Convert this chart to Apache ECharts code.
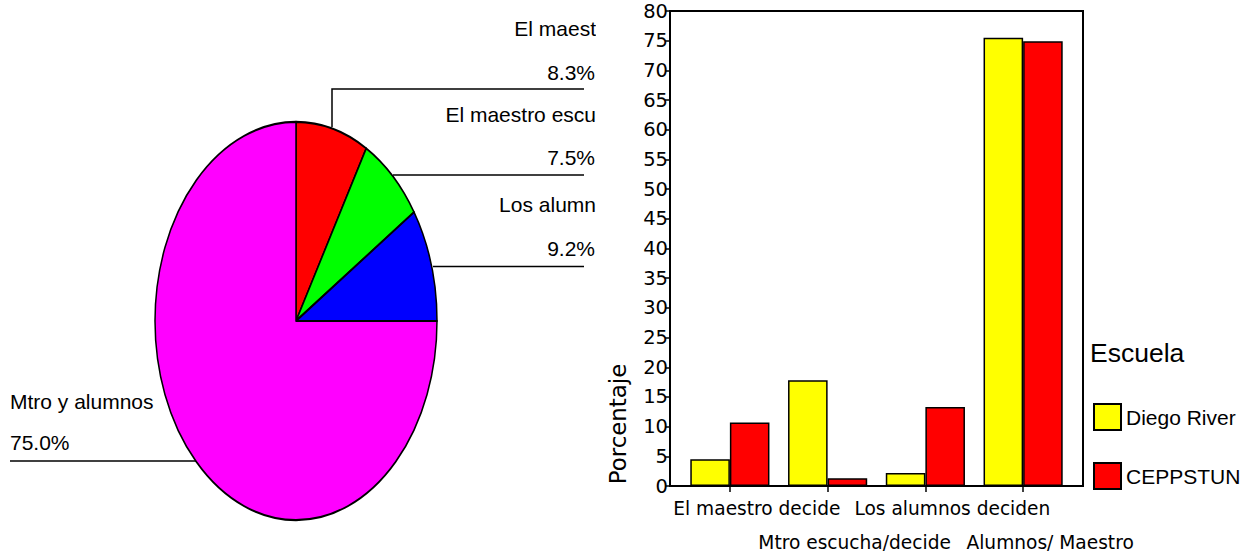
<!DOCTYPE html>
<html>
<head>
<meta charset="utf-8">
<script src="https://cdn.jsdelivr.net/npm/echarts@6/dist/echarts.min.js"></script>
<style>
html,body{margin:0;padding:0;background:#fff;}
#wrap{position:relative;width:1241px;height:556px;overflow:hidden;background:#fff;}
#labels{position:absolute;left:0;top:0;width:596px;height:556px;overflow:hidden;}
#pie{position:absolute;left:146px;top:171px;width:300px;height:300px;transform:scaleY(1.412);transform-origin:50% 50%;}
#bars{position:absolute;left:596px;top:0;width:645px;height:556px;}
</style>
</head>
<body>
<div id="wrap">
  <div id="labels"></div>
  <div id="pie"></div>
  <div id="bars"></div>
</div>
<script>
// ---- data ----
const pieLabels = ['El maest', 'El maestro escu', 'Los alumn', 'Mtro y alumnos'];
const pieValues = [8.3, 7.5, 9.2, 75.0];

const barCategories = ['El maestro decide', 'Mtro escucha/decide', 'Los alumnos deciden', 'Alumnos/ Maestro'];
const seriesNames = ['Diego River', 'CEPPSTUN'];
const diegoRivera = [4.5, 17.8, 2.2, 75.5];
const ceppstunam = [10.7, 1.3, 13.3, 74.9];

const yMin = 0, yMax = 80, yInterval = 5;
const yAxisTitle = 'Porcentaje';
const legendTitle = 'Escuela';

// ---- styles / layout ----
const pieColors = ['#FF0000', '#00FF00', '#0000FF', '#FF00FF'];
const barColors = ['#FFFF00', '#FF0000'];
const labelFont = '21px "Liberation Sans", Arial, sans-serif';

// positions of the pie annotations (name, value, leader line)
const pieLabelLayout = [
  {nameX: 596, nameY: 28,  nameAlign: 'right', valX: 595, valY: 72.5, valAlign: 'right', line: [[332,127],[332,89],[584,89]]},
  {nameX: 596, nameY: 114, nameAlign: 'right', valX: 595, valY: 157.5, valAlign: 'right', line: [[393,175],[584,175]]},
  {nameX: 596, nameY: 204, nameAlign: 'right', valX: 595, valY: 248, valAlign: 'right', line: [[433,266.5],[584,266.5]]},
  {nameX: 10,  nameY: 401, nameAlign: 'left',  valX: 10,  valY: 442.5, valAlign: 'left', line: [[10,461],[196,461]]}
];

// ---- pie annotation layer ----
const labelChart = echarts.init(document.getElementById('labels'), null, {renderer: 'svg'});
const labelGraphics = [];
pieLabels.forEach(function (name, i) {
  const L = pieLabelLayout[i];
  labelGraphics.push({
    type: 'text', x: L.nameX, y: L.nameY, silent: true,
    style: {text: name, font: labelFont, fill: '#000', align: L.nameAlign, textAlign: L.nameAlign, verticalAlign: 'middle', textVerticalAlign: 'middle'}
  });
  labelGraphics.push({
    type: 'text', x: L.valX, y: L.valY, silent: true,
    style: {text: pieValues[i].toFixed(1) + '%', font: labelFont, fill: '#000', align: L.valAlign, textAlign: L.valAlign, verticalAlign: 'middle', textVerticalAlign: 'middle'}
  });
  labelGraphics.push({
    type: 'polyline', silent: true,
    shape: {points: L.line},
    style: {stroke: '#000', lineWidth: 1.5, fill: null}
  });
});
labelChart.setOption({animation: false, graphic: labelGraphics});

// ---- pie (drawn round, stretched vertically into an ellipse) ----
const pieChart = echarts.init(document.getElementById('pie'), null, {renderer: 'svg'});
pieChart.setOption({
  animation: false,
  series: [{
    type: 'pie',
    silent: true,
    center: ['50%', '50%'],
    radius: 141,
    startAngle: 90,
    clockwise: true,
    label: {show: false},
    labelLine: {show: false},
    itemStyle: {borderColor: '#000', borderWidth: 1.5},
    data: pieValues.map(function (v, i) {
      return {name: pieLabels[i], value: v, itemStyle: {color: pieColors[i]}};
    })
  }]
});

// ---- bar chart ----
const barChart = echarts.init(document.getElementById('bars'), null, {renderer: 'svg'});
barChart.setOption({
  animation: false,
  grid: [
    {left: 74, right: 158, top: 11, bottom: 70, show: true, borderColor: '#000', borderWidth: 2, backgroundColor: 'transparent', outerBoundsMode: 'none', containLabel: false},
    {left: 85, right: 169, top: 11, bottom: 70, outerBoundsMode: 'none', containLabel: false}
  ],
  xAxis: [
    {gridIndex: 0, type: 'value', show: false, min: 0, max: 1},
    {
      gridIndex: 1, type: 'category', data: barCategories,
      axisLine: {show: false},
      axisTick: {show: true, alignWithLabel: true, length: 6, lineStyle: {color: '#000', width: 1.5}},
      axisLabel: {
        interval: 0, color: '#000', fontFamily: '"DejaVu Sans"', fontSize: 18.6,
        lineHeight: 34, margin: 5, padding: [0, 0, 0, 54],
        formatter: function (v, i) { return i % 2 ? '\n' + v : v; }
      },
      splitLine: {show: false}
    }
  ],
  yAxis: [
    {
      gridIndex: 0, type: 'value', min: yMin, max: yMax, interval: yInterval,
      axisLine: {show: false},
      axisTick: {show: true, length: 5, lineStyle: {color: '#000', width: 1.5}},
      axisLabel: {color: '#000', fontFamily: '"DejaVu Sans"', fontSize: 19.5, margin: 2},
      splitLine: {show: false}
    },
    {gridIndex: 1, type: 'value', min: yMin, max: yMax, interval: yInterval, show: false, splitLine: {show: false}}
  ],
  legend: {
    orient: 'vertical', left: 497, top: 403, padding: 0,
    itemWidth: 27, itemHeight: 26, itemGap: 31, icon: 'rect',
    selectedMode: false,
    textStyle: {fontSize: 21, fontFamily: '"Liberation Sans", Arial, sans-serif', color: '#000'},
    data: seriesNames
  },
  series: [
    {
      type: 'bar', name: seriesNames[0], xAxisIndex: 1, yAxisIndex: 1, data: diegoRivera,
      barGap: '0%', barCategoryGap: '19%',
      itemStyle: {color: barColors[0], borderColor: '#000', borderWidth: 1.5}
    },
    {
      type: 'bar', name: seriesNames[1], xAxisIndex: 1, yAxisIndex: 1, data: ceppstunam,
      barGap: '0%', barCategoryGap: '19%',
      itemStyle: {color: barColors[1], borderColor: '#000', borderWidth: 1.5}
    }
  ],
  graphic: [
    {
      type: 'text', x: 494, y: 353, silent: true,
      style: {text: legendTitle, font: '26.5px "Liberation Sans", Arial, sans-serif', fill: '#000', align: 'left', textAlign: 'left', verticalAlign: 'middle', textVerticalAlign: 'middle'}
    },
    {
      type: 'text', x: 21.5, y: 424, rotation: Math.PI / 2, silent: true,
      style: {text: yAxisTitle, font: '22.9px "DejaVu Sans", sans-serif', fill: '#000', align: 'center', textAlign: 'center', verticalAlign: 'middle', textVerticalAlign: 'middle'}
    }
  ]
});
</script>
</body>
</html>
